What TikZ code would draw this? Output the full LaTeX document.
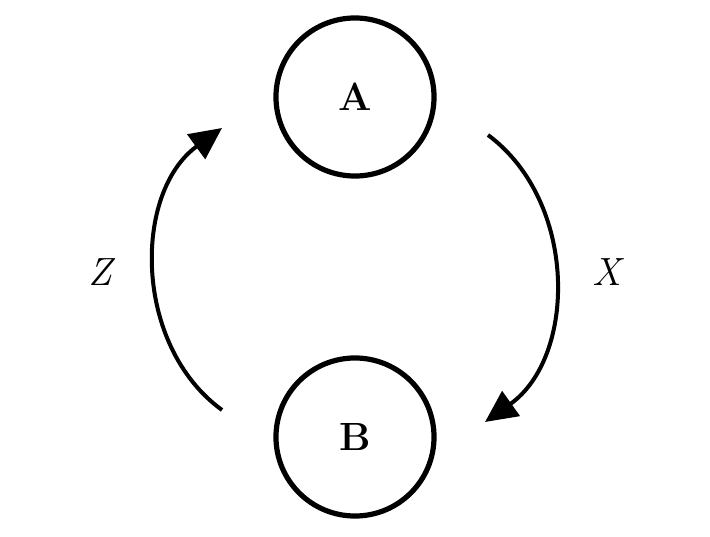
\documentclass[tikz,border=0pt]{standalone}
\usetikzlibrary{arrows.meta,positioning}

\begin{document}
\begin{tikzpicture}[
x=0.025cm,y=-0.025cm,
state/.style={draw,circle,line width=1.3mm,minimum size=3.95cm,inner sep=0pt,font=\fontsize{28}{32}\selectfont\bfseries},
lbl/.style={font=\fontsize{28}{32}\selectfont\itshape},
arrow/.style={-{Triangle[length=8mm,width=7.5mm]},line width=1mm}
]
\useasboundingbox (0,0) rectangle (710,537);
\node[state] (A) at (355,97) {A};
\node[state] (B) at (355,437) {B};
\node[lbl] (X) at (607,272) {X};
\node[lbl] (Z) at (100,272) {Z};
\draw[arrow] ([shift={(133,38)}]A.center) to[bend left=54] ([shift={(130,-15)}]B.center);
\draw[arrow] ([shift={(-133,-27)}]B.center) to[bend left=54] ([shift={(-133,31)}]A.center);
\end{tikzpicture}
\end{document}
